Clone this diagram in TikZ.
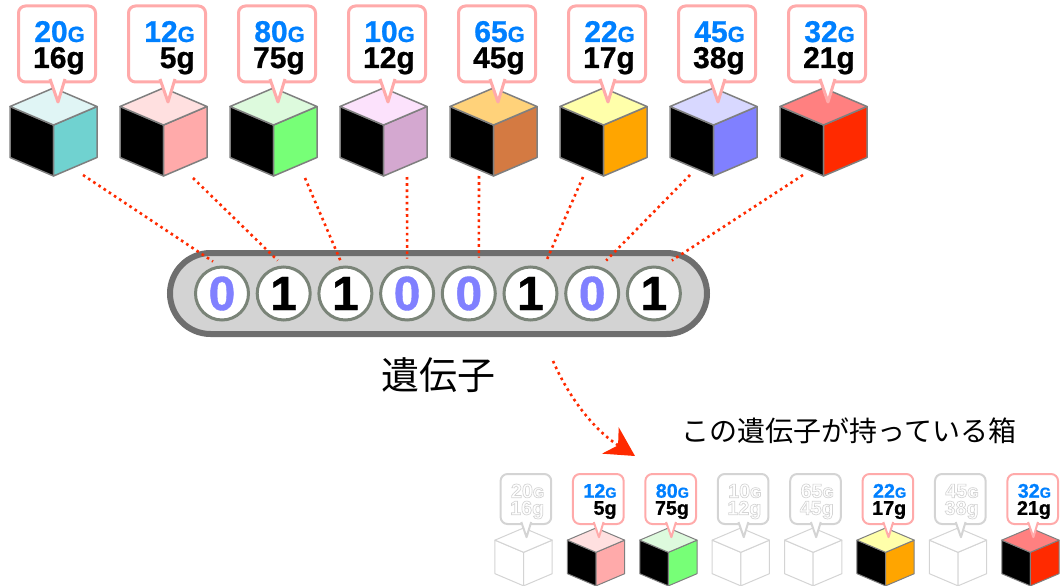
\documentclass[tikz,border=0pt]{standalone}
\usepackage{fontspec}
\setmainfont{Liberation Sans}
\newfontfamily\jpfont{Noto Sans CJK JP}
\newfontfamily\numfont[FakeBold=0.8]{Liberation Sans Bold}
\newfontfamily\plainnumfont{Liberation Sans Bold}
\usetikzlibrary{positioning,arrows.meta}

\definecolor{gblue}{HTML}{0080FF}
\definecolor{calloutpink}{HTML}{FFAAAA}
\definecolor{cubegray}{HTML}{7F7F7F}
\definecolor{fadegray}{HTML}{D4D4D4}
\definecolor{dotred}{HTML}{FF2A00}
\definecolor{zeroblue}{HTML}{8080FF}
\definecolor{ringgray}{HTML}{7A8478}
\definecolor{genefill}{HTML}{D3D3D3}
\definecolor{generim}{HTML}{6E6E6E}
% box colours: top face / side face
\definecolor{tealtop}{HTML}{E0F5F5}   \definecolor{tealside}{HTML}{70D2D0}
\definecolor{rosetop}{HTML}{FFE0E0}   \definecolor{roseside}{HTML}{FFAAAA}
\definecolor{minttop}{HTML}{DDFADD}   \definecolor{mintside}{HTML}{77FF77}
\definecolor{liltop}{HTML}{FCE2FC}    \definecolor{lilside}{HTML}{D4A8D0}
\definecolor{amberstop}{HTML}{FFD27A} \definecolor{amberside}{HTML}{D47A42}
\definecolor{lemontop}{HTML}{FFFFAA}  \definecolor{lemonside}{HTML}{FFA500}
\definecolor{skytop}{HTML}{D8D8FF}    \definecolor{skyside}{HTML}{8080FF}
\definecolor{redtop}{HTML}{FF8080}    \definecolor{redside}{HTML}{FF2A00}

% outlined text for the boxes that are not picked
\newcommand{\hollowon}{\special{pdf:literal direct 1 Tr 1 w}}
\newcommand{\hollowoff}{\special{pdf:literal direct 0 Tr}}
\newcommand{\gcol}{gblue}
\newcommand{\unitG}{{\fontsize{22pt}{22pt}\selectfont G}}

\tikzset{
  cubeline/.style={draw=cubegray, line width=1.5pt, line join=round},
  leftface/.style={fill=black},
  callout/.style={draw=calloutpink, fill=white, line width=3pt, rounded corners=7pt},
  tail/.style={draw=calloutpink, fill=white, line width=3pt, line join=round},
  weight/.style={font=\numfont\fontsize{30pt}{26pt}\selectfont, text=black,
    align=right, inner sep=0pt, anchor=base east},
  small box/.style={scale=0.658,
    callout/.append style={line width=2pt}, tail/.append style={line width=2pt},
    cubeline/.append style={line width=1pt}},
  faded/.style={cubeline/.append style={draw=fadegray}, leftface/.append style={fill=white},
    callout/.append style={draw=fadegray}, tail/.append style={draw=fadegray},
    weight/.append style={font=\plainnumfont\fontsize{30pt}{26pt}\selectfont, text=fadegray,
      execute at begin node={\def\gcol{fadegray}\hollowon}, execute at end node=\hollowoff}},
  dots/.style={draw=dotred, line width=2.6pt, dash pattern=on 2.6pt off 3.6pt},
  gene/.style={draw=generim, fill=genefill, line width=6pt, rounded corners=40.5pt,
    minimum width=537pt, minimum height=81pt, inner sep=0pt},
  bit/.style={circle, draw=ringgray, fill=white, line width=3pt, minimum size=53pt, inner sep=0pt,
    font=\numfont\fontsize{48pt}{48pt}\selectfont},
  jptext/.style={font=\jpfont\fontsize{#1}{#1}\selectfont, inner sep=0pt},
}

% one box with its weight tag: [options]{name}{x}{y}{top}{side}{G}{g}
\newcommand{\genebox}[8][]{%
  \begin{scope}[shift={(#3,#4)}, transform shape, #1]
    \filldraw[cubeline, leftface] (0,119) -- (-43.5,100.5) -- (-43.5,151.5) -- (0,170) -- cycle;
    \filldraw[cubeline, fill=#6] (0,119) -- (43.5,100.5) -- (43.5,151.5) -- (0,170) -- cycle;
    \filldraw[cubeline, fill=#5] (0,82) -- (43.5,100.5) -- (0,119) -- (-43.5,100.5) -- cycle;
    \draw[callout] (-35,0) rectangle (42,76);
    \filldraw[tail] (-3.5,73) -- (4.5,96) -- (11.5,73);
    \node[weight] (#2tag) at (31.5,62) {\textcolor{\gcol}{#7\unitG}\\#8g};
    \coordinate (#2) at (0,170);
  \end{scope}}

\begin{document}
\begin{tikzpicture}[x=1pt, y=-1pt]
  \useasboundingbox (0,0) rectangle (1061,586);

  % the eight boxes
  \genebox{cube1}{53.5}{6}{tealtop}{tealside}{20}{16}
  \genebox{cube2}{163.5}{6}{rosetop}{roseside}{12}{5}
  \genebox{cube3}{273.5}{6}{minttop}{mintside}{80}{75}
  \genebox{cube4}{383.5}{6}{liltop}{lilside}{10}{12}
  \genebox{cube5}{493.5}{6}{amberstop}{amberside}{65}{45}
  \genebox{cube6}{603.5}{6}{lemontop}{lemonside}{22}{17}
  \genebox{cube7}{713.5}{6}{skytop}{skyside}{45}{38}
  \genebox{cube8}{823.5}{6}{redtop}{redside}{32}{21}

  % gene
  \node[gene] (gene) at (438.5,293.5) {};
  \foreach \i/\b/\c in {1/0/zeroblue, 2/1/black, 3/1/black, 4/0/zeroblue,
                        5/0/zeroblue, 6/1/black, 7/0/zeroblue, 8/1/black}
    \node[bit, text=\c] (bit\i) at ({222+61.7*(\i-1)},293.5) {\b};
  \node[jptext=38pt, below=20pt of gene] (genelabel) {遺伝子};

  % which box each bit stands for
  \foreach \i/\sx/\sy/\ex/\ey in {1/29.5/-1/-9/-32, 2/29.5/2/-6/-33, 3/31.5/2/-5/-33,
      4/23.5/1/0/-35, 5/-14.5/0/10/-36, 6/-20.5/1/16/-33, 7/-23.5/-1/14/-33, 8/-20.5/-1/18/-33}
    \draw[dots] ([shift={(\sx,\sy)}]cube\i) -- ([shift={(\ex,\ey)}]bit\i.center);

  \coordinate (arrowfrom) at (553,361);
  \coordinate (arrowto) at (635,456);
  \draw[dots, -{Stealth[length=29pt, width=31pt, inset=9pt, fill=dotred]}]
    (arrowfrom) .. controls (571,402) and (597,432) .. (arrowto);

  \node[jptext=28pt] (pickcaption) at (849,431) {この遺伝子が持っている箱};

  % the boxes this gene holds
  \genebox[small box, faded]{pick1}{523.6}{474}{white}{white}{20}{16}
  \genebox[small box]{pick2}{596.0}{474}{rosetop}{roseside}{12}{5}
  \genebox[small box]{pick3}{668.4}{474}{minttop}{mintside}{80}{75}
  \genebox[small box, faded]{pick4}{740.8}{474}{white}{white}{10}{12}
  \genebox[small box, faded]{pick5}{813.2}{474}{white}{white}{65}{45}
  \genebox[small box]{pick6}{885.6}{474}{lemontop}{lemonside}{22}{17}
  \genebox[small box, faded]{pick7}{958.0}{474}{white}{white}{45}{38}
  \genebox[small box]{pick8}{1030.4}{474}{redtop}{redside}{32}{21}
\end{tikzpicture}
\end{document}
